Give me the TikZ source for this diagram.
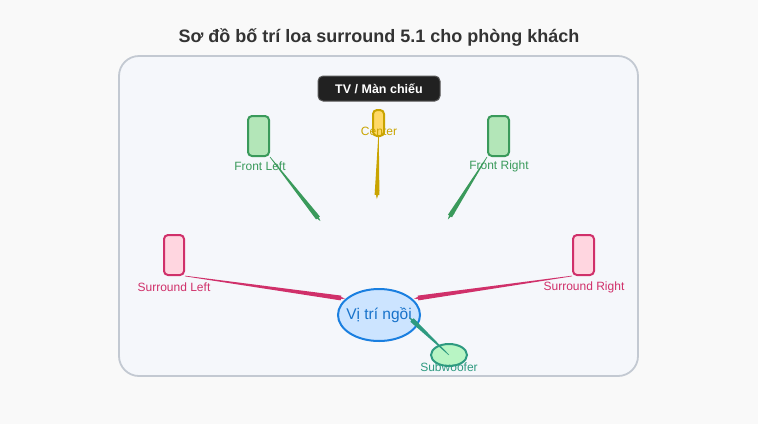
\documentclass[tikz,border=0pt]{standalone}
\usepackage{fontspec}
\setmainfont{Liberation Sans}
\usepackage{xcolor}
\usetikzlibrary{positioning}
\usetikzlibrary{arrows.meta}
\usetikzlibrary{calc}
\usetikzlibrary{shapes.geometric}
\definecolor{pageBg}{HTML}{F9F9F9}
\definecolor{roomBg}{HTML}{F5F7FB}
\definecolor{roomLine}{HTML}{C3C9D2}
\definecolor{frontFill}{HTML}{B3E6B8}
\definecolor{frontLine}{HTML}{3A9A5B}
\definecolor{centerFill}{HTML}{FFD966}
\definecolor{centerLine}{HTML}{C9A400}
\definecolor{rearFill}{HTML}{FFD6E0}
\definecolor{rearLine}{HTML}{D0306A}
\definecolor{seatFill}{HTML}{CCE4FF}
\definecolor{seatLine}{HTML}{1A7FE0}
\definecolor{subFill}{HTML}{B8F5C4}
\definecolor{subLine}{HTML}{2E9A80}
\tikzset{speaker/.style={draw, line width=2pt, rounded corners=4pt, inner sep=0pt},
lbl/.style={font=\fontsize{12}{14}\selectfont, inner sep=0pt}}
% tapered connector: from, to, colour
\newcommand\taper[3]{%
  \fill[#3] ($(#1)!0.3pt!90:(#2)$) -- ($(#2)!2.4pt!-90:(#1)$) -- ($(#2)!2.4pt!90:(#1)$) -- ($(#1)!0.3pt!-90:(#2)$) -- cycle;
  \draw[#3, line width=0.6pt, -{Stealth[length=9pt,width=4.5pt,inset=3pt]}] ($(#2)!10pt!(#1)$) -- ($(#2)!-4pt!(#1)$);}

\begin{document}
\begin{tikzpicture}[x=1pt, y=-1pt]
	\useasboundingbox[fill=pageBg] (0,0) rectangle (758,424);
	\node(title) [font=\bfseries\fontsize{18}{21}\selectfont, text=black!80] at (379,37) {Sơ đồ bố trí loa surround 5.1 cho phòng khách};
	\draw[roomLine, fill=roomBg, line width=1.8pt, rounded corners=20pt] (119,56) rectangle (638,376);
	\node(tv) [fill=black!87, draw=black!65, line width=1pt, rounded corners=5pt, minimum width=122pt, minimum height=25pt, text=white, font=\bfseries\fontsize{12.5}{14}\selectfont] at (379,88.5) {TV / Màn chiếu};
	% speakers
	\node(fl) [speaker, draw=frontLine, fill=frontFill, minimum width=21pt, minimum height=40pt] at (258.5,136) {};
	\node(fr) [speaker, draw=frontLine, fill=frontFill, minimum width=21pt, minimum height=40pt] at (498.5,136) {};
	\node(c) [speaker, draw=centerLine, fill=centerFill, minimum width=11pt, minimum height=26pt] at (378.5,123) {};
	\node(sl) [speaker, draw=rearLine, fill=rearFill, minimum width=20pt, minimum height=40pt] at (174,255) {};
	\node(sr) [speaker, draw=rearLine, fill=rearFill, minimum width=21pt, minimum height=40pt] at (583.5,255) {};
	\node(seat) [ellipse, draw=seatLine, fill=seatFill, line width=2pt, minimum width=82pt, minimum height=52pt, inner xsep=-4pt, inner ysep=0pt, text=seatLine!90!black, font=\fontsize{15.5}{18}\selectfont] at (379,315) {Vị trí ngồi};
	\node(sub) [ellipse, draw=subLine, fill=subFill, line width=2pt, minimum width=36pt, minimum height=22pt, inner sep=0pt] at (449,355) {};
	% labels
	\node(flText) [lbl, text=frontLine] at (260,166) {Front Left};
	\node(frText) [lbl, text=frontLine] at (499,166) {Front Right};
	\node(cText) [lbl, text=centerLine] at (379,131) {Center};
	\node(slText) [lbl, text=rearLine] at (174,287) {Surround Left};
	\node(srText) [lbl, text=rearLine] at (584,287) {Surround Right};
	\node(subText) [lbl, text=subLine] at (449,367) {Subwoofer};
	% ends of the connectors
	\coordinate(flEnd) at (318,218);
	\coordinate(frEnd) at (450,216);
	\coordinate(cEnd) at (377,195);
	\coordinate(slEnd) at (341,298);
	\coordinate(srEnd) at (418,298);
	\coordinate(subEnd) at (412,320);
	\taper{fl.south east}{flEnd}{frontLine}
	\taper{fr.south west}{frEnd}{frontLine}
	\taper{c.south}{cEnd}{centerLine}
	\taper{sl.south east}{slEnd}{rearLine}
	\taper{sr.south west}{srEnd}{rearLine}
	\taper{sub.center}{subEnd}{subLine}
\end{tikzpicture}
\end{document}
